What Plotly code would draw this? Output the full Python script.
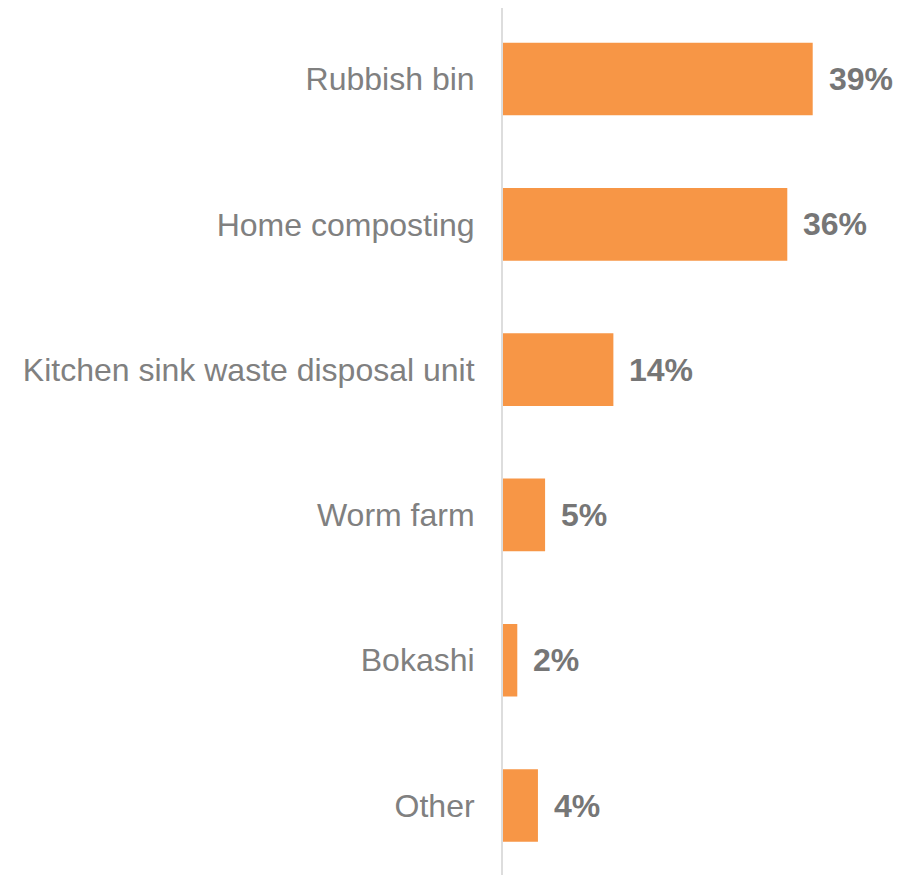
import plotly.graph_objects as go

categories = ["Rubbish bin", "Home composting", "Kitchen sink waste disposal unit",
              "Worm farm", "Bokashi", "Other"]
values = [39.0, 35.8, 13.9, 5.3, 1.8, 4.4]
value_labels = ["39%", "36%", "14%", "5%", "2%", "4%"]

FONT = "Liberation Sans, Arial, sans-serif"
BAR_COLOR = "#F79646"
TEXT_GRAY = "#808080"
VALUE_GRAY = "#767676"

fig = go.Figure()
fig.add_trace(go.Bar(
    x=values,
    y=categories,
    orientation="h",
    marker=dict(color=BAR_COLOR, line=dict(width=0)),
    width=0.5,
    hoverinfo="skip",
))

for cat, val, lab in zip(categories, values, value_labels):
    fig.add_annotation(
        x=val, y=cat, text=lab, showarrow=False,
        xanchor="left", yanchor="middle", xshift=14,
        font=dict(family=FONT, size=32, color=VALUE_GRAY, weight="bold"),
    )

# page body adds an 8px offset, so the figure is 8px smaller each way
W, H = 894, 867
L, R, T, B = 495, 0, 0, 0
plot_w = W - L - R
px_per_unit = 309.7 / 39.0
band = 145.3
y_top = -0.5 + 1.65 / band
y_bot = y_top + H / band

fig.update_layout(
    width=W, height=H,
    margin=dict(l=L, r=R, t=T, b=B, pad=0),
    paper_bgcolor="white", plot_bgcolor="white",
    showlegend=False,
    font=dict(family=FONT, size=32, color=TEXT_GRAY),
    xaxis=dict(range=[0, plot_w / px_per_unit], visible=False, fixedrange=True),
    yaxis=dict(
        categoryorder="array", categoryarray=categories,
        range=[y_bot, y_top],
        showline=True, linecolor="#DDDDDD", linewidth=2,
        showgrid=False, zeroline=False, ticks="",
        ticklabelstandoff=20,
        tickfont=dict(family=FONT, size=32, color=TEXT_GRAY),
        fixedrange=True,
    ),
)

fig.write_html("out.html")
